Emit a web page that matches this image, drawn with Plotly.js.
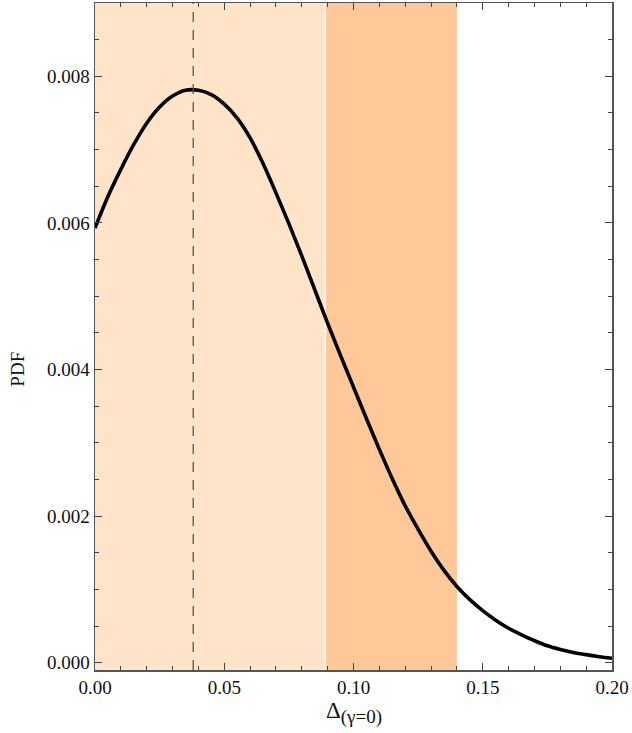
<!DOCTYPE html>
<html>
<head>
<meta charset="utf-8">
<script src="https://cdn.plot.ly/plotly-3.0.1.min.js"></script>
<style>html,body{margin:0;padding:0;background:#fff;}#chart{width:632px;height:733px;}</style>
</head>
<body>
<div id="chart"></div>
<script>
// Data
const delta = [0.000,0.005,0.010,0.015,0.020,0.025,0.030,0.035,0.040,0.045,0.050,0.055,0.060,0.065,0.070,0.075,0.080,0.085,0.090,0.095,0.100,0.105,0.110,0.115,0.120,0.125,0.130,0.135,0.140,0.145,0.150,0.155,0.160,0.165,0.170,0.175,0.180,0.185,0.190,0.195,0.200];
const pdf   = [0.00593,0.00636,0.00673,0.00707,0.00736,0.00758,0.00773,0.00781,0.00781,0.00775,0.00762,0.00743,0.00716,0.00681,0.00641,0.00599,0.00555,0.00509,0.00463,0.00419,0.00376,0.00333,0.00291,0.00251,0.00214,0.00182,0.00152,0.00126,0.00104,0.00086,0.00071,0.00058,0.00047,0.00038,0.00030,0.00023,0.00018,0.00014,0.00011,0.00008,0.00006];
const peakX = 0.038;
const lightBand = [0.0, 0.0888];
const darkBand = [0.0894, 0.140];
const xTickVals = [0.00,0.05,0.10,0.15,0.20];
const yTickVals = [0.000,0.002,0.004,0.006,0.008];

const traces = [{
  x: delta, y: pdf, type: 'scatter', mode: 'lines',
  line: {color: '#000', width: 3.6, shape: 'spline', smoothing: 1},
  hoverinfo: 'skip', showlegend: false
}];

const font = {family: '"Liberation Serif", "Times New Roman", serif', color: '#111'};

const layout = {
  width: 632, height: 733,
  margin: {l: 95, r: 20, t: 3, b: 63},
  paper_bgcolor: '#fff', plot_bgcolor: '#fff',
  font: Object.assign({size: 19}, font),
  showlegend: false,
  xaxis: {
    range: [0, 0.2], tickvals: xTickVals, tickformat: '.2f',
    ticks: 'inside', ticklen: 7, tickwidth: 1, tickcolor: '#444',
    minor: {dtick: 0.01, tick0: 0, ticks: 'inside', ticklen: 4, tickcolor: '#444'},
    showline: true, linecolor: '#555', linewidth: 1.5, mirror: 'ticks',
    showgrid: false, zeroline: false,
    tickfont: Object.assign({size: 19}, font)
  },
  yaxis: {
    range: [-0.0001, 0.009], tickvals: yTickVals, tickformat: '.3f',
    ticks: 'inside', ticklen: 7, tickwidth: 1, tickcolor: '#444',
    minor: {dtick: 0.0005, tick0: 0, ticks: 'inside', ticklen: 4, tickcolor: '#444'},
    showline: true, linecolor: '#555', linewidth: 1.5, mirror: 'ticks',
    showgrid: false, zeroline: false,
    tickfont: Object.assign({size: 19}, font)
  },
  shapes: [
    {type: 'rect', xref: 'x', yref: 'paper', x0: lightBand[0], x1: lightBand[1], y0: 0, y1: 1,
     fillcolor: '#FFE4CA', line: {width: 0}, layer: 'below'},
    {type: 'rect', xref: 'x', yref: 'paper', x0: darkBand[0], x1: darkBand[1], y0: 0, y1: 1,
     fillcolor: '#FEC899', line: {width: 0}, layer: 'below'},
    {type: 'line', xref: 'x', yref: 'paper', x0: peakX, x1: peakX, y0: 0, y1: 1,
     line: {color: '#555', width: 1.3, dash: '10px,8px'}}
  ],
  annotations: [
    {text: 'PDF', xref: 'paper', yref: 'paper', x: -0.15, y: 0.451, textangle: -90,
     showarrow: false, font: Object.assign({size: 19}, font), xanchor: 'center', yanchor: 'middle'},
    {text: 'Δ<sub><span style="font-size:19px">(γ=0)</span></sub>', xref: 'paper', yref: 'paper', x: 0.5, y: -0.064,
     showarrow: false, font: Object.assign({size: 23}, font), xanchor: 'center', yanchor: 'middle'}
  ]
};

Plotly.newPlot('chart', traces, layout, {displayModeBar: false, staticPlot: true});
</script>
</body>
</html>
